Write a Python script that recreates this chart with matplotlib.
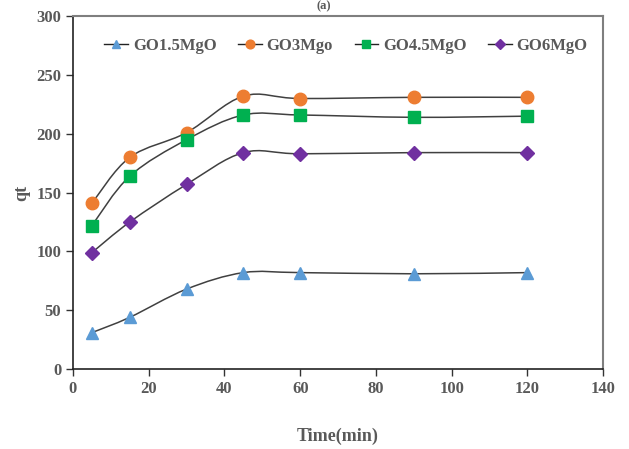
import numpy as np
import matplotlib
matplotlib.use("Agg")
import matplotlib.pyplot as plt
from matplotlib.path import Path
from matplotlib.patches import PathPatch
from matplotlib.lines import Line2D

# Data
time = [5, 15, 30, 45, 60, 90, 120]
go15 = [31, 44, 68, 82, 82, 81, 82]
go3 = [141, 180, 201, 232, 230, 231, 231]
go45 = [122, 164, 195, 216, 216, 214, 215]
go6 = [99, 125, 157, 184, 183, 184, 184]

series = [
    ("GO1.5MgO", go15, "#5B9BD5", "^", 9),
    ("GO3Mgo", go3, "#ED7D31", "o", 9),
    ("GO4.5MgO", go45, "#00B050", "s", 8.5),
    ("GO6MgO", go6, "#7030A0", "D", 7),
]

plt.rcParams["font.family"] = "Liberation Serif"
plt.rcParams["font.weight"] = "bold"


def smooth_path(x, y):
    # Excel style smoothed line (Catmull-Rom bezier segments)
    pts = np.column_stack([x, y]).astype(float)
    n = len(pts)
    verts = [pts[0]]
    codes = [Path.MOVETO]
    for i in range(n - 1):
        p0 = pts[i - 1] if i > 0 else pts[i]
        p1 = pts[i]
        p2 = pts[i + 1]
        p3 = pts[i + 2] if i + 2 < n else pts[i + 1]
        c1 = p1 + (p2 - p0) / 6.0
        c2 = p2 - (p3 - p1) / 6.0
        verts += [c1, c2, p2]
        codes += [Path.CURVE4] * 3
    return Path(verts, codes)


fig = plt.figure(figsize=(6.29, 4.49), dpi=100)
ax = fig.add_axes([0.116, 0.178, 0.843, 0.786])

handles = []
for name, vals, color, marker, ms in series:
    ax.add_patch(PathPatch(smooth_path(time, vals), fill=False,
                           edgecolor="#404040", lw=1.1, zorder=2))
    ax.plot(time, vals, linestyle="none", marker=marker, color=color,
            markersize=ms, zorder=3)
    handles.append(Line2D([0], [0], color="#222222", lw=1.0, marker=marker,
                          markerfacecolor=color, markeredgecolor=color,
                          markersize=ms * 0.7, label=name))

ax.set_xlim(0, 140)
ax.set_ylim(0, 300)
ax.set_xticks(np.arange(0, 141, 20))
ax.set_yticks(np.arange(0, 301, 50))
ax.tick_params(axis="both", direction="out", length=5, width=1,
               labelsize=12, labelcolor="#595959", color="#333333")

for s in ["left", "bottom"]:
    ax.spines[s].set_color("#222222")
    ax.spines[s].set_linewidth(1.2)
for s in ["top", "right"]:
    ax.spines[s].set_color("#7f7f7f")
    ax.spines[s].set_linewidth(1.5)

ax.set_xlabel("Time(min)", fontsize=13, fontweight="bold", color="#595959",
              labelpad=22)
ax.set_ylabel("qt", fontsize=13, fontweight="bold", color="#595959",
              labelpad=4)

ax.legend(handles=handles, loc="upper center", ncol=4, frameon=False,
          fontsize=12, bbox_to_anchor=(0.515, 0.98), handlelength=1.4,
          handletextpad=0.3, columnspacing=1.3, labelcolor="#595959")

fig.text(0.515, 0.999, "(a)", ha="center", va="top", fontsize=9,
         color="#595959")

plt.savefig("out.png", dpi=100)
plt.close()
